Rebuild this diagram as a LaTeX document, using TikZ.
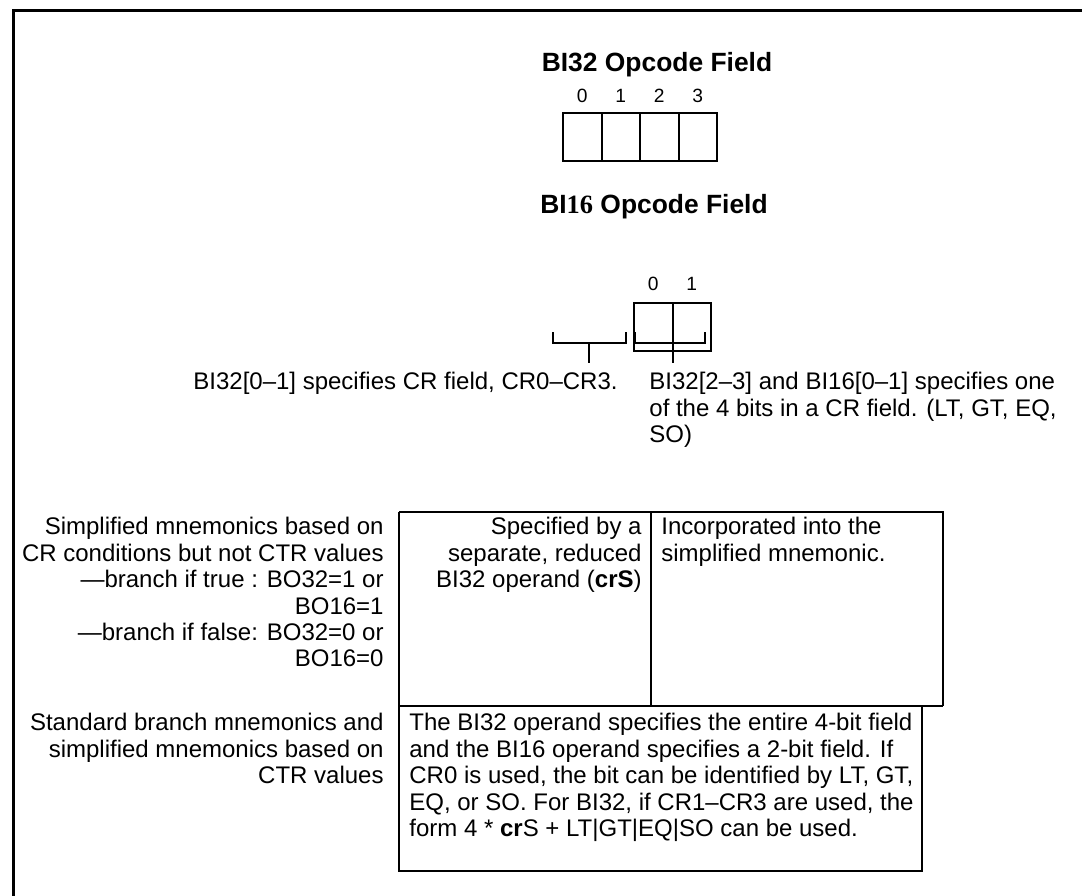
\documentclass[tikz,border=0pt]{standalone}
\usepackage{fontspec}
\setmainfont{Liberation Sans}
\newfontfamily\numfont{Liberation Serif}
\usetikzlibrary{positioning}

\begin{document}
\begin{tikzpicture}[x=0.5pt,y=-0.5pt,
        txt/.style={font=\fontsize{12}{13.2}\selectfont,inner sep=0pt},
        ttl/.style={font=\fontsize{13.2}{16}\selectfont\bfseries,inner sep=0pt,anchor=base},
        bitno/.style={font=\fontsize{9.6}{11}\selectfont,inner sep=0pt},
        cell/.style={draw,line width=1pt,minimum width=19.25pt,minimum height=24pt,inner sep=0pt,outer sep=0pt},
        rule/.style={line width=1pt}]
            \useasboundingbox (0,0) rectangle (1082,895);
            \clip (0,0) rectangle (1082,895);
            \draw[line width=1.5pt] (13,900) -- (13,10) -- (1090,10);

            % BI32 field
            \node (title32) at (657,71) [ttl] {BI32 Opcode Field};
            \node (cell0) at (582.25,137) [cell] {};
            \node (cell1) [cell,right=0pt of cell0] {};
            \node (cell2) [cell,right=0pt of cell1] {};
            \node (cell3) [cell,right=0pt of cell2] {};
            \node (bit0) [bitno,above=5pt of cell0] {0};
            \node (bit1) [bitno,above=5pt of cell1] {1};
            \node (bit2) [bitno,above=5pt of cell2] {2};
            \node (bit3) [bitno,above=5pt of cell3] {3};

            % BI16 field
            \node (title16) at (654,213) [ttl] {BI{\numfont 16} Opcode Field};
            \node (cella) at (653.25,327) [cell] {};
            \node (cellb) [cell,right=0pt of cella] {};
            \node (bita) [bitno,above=6pt of cella] {0};
            \node (bitb) [bitno,above=6pt of cellb] {1};

            % brackets
            \coordinate (stemcr) at (589,363);
            \coordinate (stembit) at (673,363);
            \draw[rule] (553,332) |- (626,343) -- (626,332);
            \draw[rule] (589,343) -- (stemcr);
            \draw[rule] (635,332) |- (705,343) -- (705,332);
            \draw[rule] (673,343) -- (stembit);

            \node (lblcr) at (618,372) [txt,anchor=north east] {BI32[0–1] specifies CR field, CR0–CR3.};
            \node (lblbit) at (649,372) [txt,anchor=north west,align=left] {BI32[2–3] and BI16[0–1] specifies one\\of the 4 bits in a CR field. (LT, GT, EQ,\\SO)};

            % table
            \draw[rule] (399,512) -- (943,512) -- (943,706);
            \draw[rule] (651,512) -- (651,706);
            \draw[rule] (399,706) -- (943,706);
            \draw[rule] (399,512) -- (399,871) -- (922,871) -- (922,706);

            \node (rowcr) at (384,517) [txt,anchor=north east,align=right] {Simplified mnemonics based on\\CR conditions but not CTR values\\—branch if true : BO32=1 or\\BO16=1\\—branch if false: BO32=0 or\\BO16=0};
            \node (crsop) at (642,517) [txt,anchor=north east,align=right] {Specified by a\\separate, reduced\\BI32 operand (\textbf{crS})};
            \node (crsin) at (661,517) [txt,anchor=north west,align=left] {Incorporated into the\\simplified mnemonic.};
            \node (rowctr) at (384,713) [txt,anchor=north east,align=right] {Standard branch mnemonics and\\simplified mnemonics based on\\CTR values};
            \node (ctrop) at (409,713) [txt,anchor=north west,align=left] {The BI32 operand specifies the entire 4-bit field\\and the BI16 operand specifies a 2-bit field. If\\CR0 is used, the bit can be identified by LT, GT,\\EQ, or SO. For BI32, if CR1–CR3 are used, the\\form 4 * \textbf{cr}S + LT|GT|EQ|SO can be used.};
        \end{tikzpicture}
\end{document}
